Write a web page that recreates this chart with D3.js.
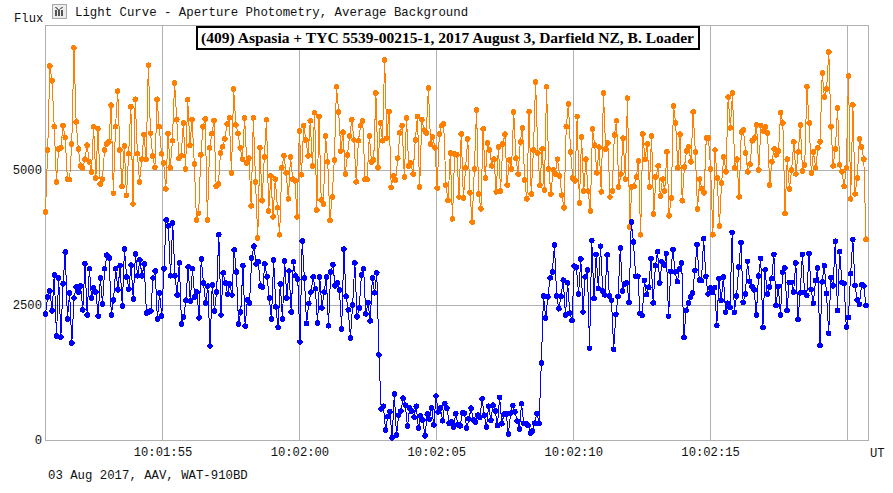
<!DOCTYPE html>
<html>
<head>
<meta charset="utf-8">
<script src="https://cdn.jsdelivr.net/npm/d3@7"></script>
<style>
  html, body { margin: 0; padding: 0; background: #fff; }
  svg { display: block; }
  .mono { font-family: "Liberation Mono", monospace; fill: #111; }
</style>
</head>
<body>
<script>
// flux, one value per video frame, left to right
const starFlux = [
  4220,5370,6925,6650,5800,4780,5390,5410,5820,5600,4830,4820,5480,7260,5890,5390,5075,5040,5200,5460,
  5150,4960,5800,4850,5760,4740,4830,5370,5480,5520,6200,4570,5800,6460,5370,4700,5445,4530,5300,6170,
  4370,6310,5300,4780,5200,5650,5200,6940,5680,5260,5050,6310,5800,5300,
  5130,4650,5680,5040,5540,6610,5930,5220,5260,5870,5020,6300,5460,5930,5110,4075,4200,5280,5800,5945,
  4075,5410,5670,5910,4700,4740,5315,5430,5575,5850,5965,4945,6500,5835,5680,5410,5200,5965,5130,5220,
  4335,5965,4780,3740,5410,4430,5240,5930,4240,4890,4130,4830,4300,3800,5040,5260,4945,4465,5240,4830,
  4800,4130,5720,
  4910,5820,5555,5260,5910,5075,6060,4260,5990,4445,4370,5630,5150,4060,4500,5185,6540,6075,5350,5700,
  4925,5280,5630,5930,5555,4780,5540,5820,5910,4830,4830,5630,5150,5185,6425,5040,5870,5540,7035,5590,
  6075,4680,4890,4815,5220,5685,5820,4870,5965,5075,5130,4925,5555,5990,4685,5930,5740,5685,6520,5480,
  5610,5410,4665,5665,5820,5850,4720,4430,5315,4095,5295,5280,4500,5665,4480,5040,5575,4575,4035,5020,
  6110,4555,4280,5760,4850,5500,5370,5075,5200,4595,5425,4610,5480,5665,4720,5185,5020,6075,5220,4925,
  5520,5780,4815,4465,6075,4555,5370,6630,5315,4720,5390,4630,6540,5020,4555,5000,4925,5200,4890,4535,
  4300,5800,6220,5335,4850,4800,5990,4390,5610,4610,5200,4610,4240,5760,5460,4945,5425,
  4595,6425,5390,5500,4500,4610,5650,5910,4685,4925,5590,4830,6330,3945,4685,4700,4870,5165,3800,5665,
  5200,5480,4685,5630,4185,4870,5075,4520,4830,4610,5335,4150,4480,6185,5870,5040,5665,4430,5055,5350,
  5425,5150,6075,5335,4280,4830,4650,4575,5590,5590,5020,3800,5370,4850,3965,4760,5240,4965,6350,5780,
  6425,5040,5200,4500,5700,5740,5315,4965,5110,5540,5590,5835,5000,5820,5720,5800,5685,4720,5150,5390,
  5280,5350,6060,5870,4200,5200,4650,5000,5520,4925,5335,5835,4980,5095,6540,5870,4945,5335,5040,5410,
  5520,6795,6350,6500,7185,5800,5075,5390,6150,5095,4965,4700,5040,6740,4465,6205,4555,4850,5575,5425,
  5200,3720
];
const asteroidFlux = [
  2335,2650,2760,2390,3055,1925,3000,1905,2890,3480,2240,2720,1795,2630,2835,2740,2850,2410,3260,2315,
  3170,2630,2815,2740,2295,3000,2520,3170,3425,3370,2315,2590,3170,2780,3225,2480,3535,3020,2795,3240,
  2610,3445,3040,3335,3040,3260,2350,2370,2390,3000,3130,2240,2720,2295,3170,4075,3965,3040,4020,3040,
  2685,3280,2150,2280,2590,3205,2575,3170,2650,2740,2260,3350,2905,2535,2850,1740,2870,2390,2740,3800,
  2315,3095,2905,2700,2890,2685,3520,3110,2150,2370,3225,2110,2590,2535,3370,3590,3260,3300,2850,2835,
  3260,3020,2630,2240,3335,2465,2090,2890,2240,3315,2630,3130,2370,3300,3040,2980,1815,
  3685,3000,2155,2530,2740,3020,2800,2165,3020,2445,2740,3020,2115,3110,3245,2855,2905,2775,2055,3535,
  2665,2410,1890,2500,3280,2280,2445,3055,3170,2335,2540,2205,3000,2725,3095,1575,
  575,625,185,430,520,40,850,90,460,535,775,645,260,590,535,425,625,220,445,370,75,480,385,590,280,815,
  520,590,355,670,590,310,335,240,485,280,260,500,495,220,390,590,370,330,460,420,760,460,240,625,365,
  645,535,270,790,300,480,480,110,495,640,520,350,205,670,310,300,270,130,165,310,495,310,
  1425,2665,2260,2650,3000,3110,3610,2665,2430,2665,2960,2315,2910,2350,2220,3220,3200,2705,3350,2370,
  3020,3150,1700,
  3692,2624,3433,2803,3587,2760,2686,3427,2667,2587,1680,2328,2655,3556,2760,2890,2908,2550,4038,3667,
  3032,3032,2346,2309,2957,2692,2828,3365,2538,3229,3488,2908,3297,3241,3451,2291,3124,3525,3112,2933,
  3167,3278,1896,2396,2538,2649,2723,3143,3618,2964,2951,3729,3032,2704,2815,2729,2822,2124,2988,2581,
  3019,2365,2532,2451,3846,2365,2667,3204,3661,2550,2704,3309,2939,2846,2778,2315,3038,3365,2087,3149,
  2704,2834,2988,3439,2495,2846,2315,3106,3186,2402,2920,2920,2741,3278,2235,2723,3439,2729,2673,3458,
  2791,2532,2951,3186,1754,2927,3229,2711,1976,3007,2853,3680,2396,3488,2920,2902,2093,2266,3081,3711,
  2865,2593,2513,2877,2853,2495
];
const fluxTicks = [0, 2500, 5000];
const timeTicks = [115, 120, 125, 130, 135, 140]; // seconds after 10:00:00
const timeLabels = ["10:01:55", "10:02:00", "10:02:05", "10:02:10", "10:02:15", ""];
const firstFrame = 110.727;
const lastFrame = 140.694;

const titleText = "(409) Aspasia + TYC 5539-00215-1, 2017 August 3, Darfield NZ, B. Loader";
const headerText = "Light Curve - Aperture Photometry, Average Background";
const footerText = "03 Aug 2017, AAV, WAT-910BD";

const width = 893, height = 493;
const margin = {top: 25, right: 25, bottom: 53, left: 45};
const gridColor = "#b0b0b0";

const svg = d3.select("body").append("svg")
  .attr("width", width)
  .attr("height", height);

const xScale = d3.scaleLinear()
  .domain([110.727, 140.767])
  .range([margin.left + 0.5, width - margin.right]);

const yScale = d3.scaleLinear()
  .domain([0, 7685])
  .range([height - margin.bottom, margin.top]);

// frame
svg.append("rect")
  .attr("x", margin.left)
  .attr("y", margin.top)
  .attr("width", width - margin.left - margin.right)
  .attr("height", height - margin.top - margin.bottom)
  .attr("fill", "none")
  .attr("stroke", gridColor)
  .attr("shape-rendering", "crispEdges");

// axes, the tick lines double as the grid
const xAxis = d3.axisBottom(xScale)
  .tickValues(timeTicks)
  .tickSize(-(height - margin.top - margin.bottom))
  .tickPadding(7)
  .tickFormat((d, i) => timeLabels[i]);

const yAxis = d3.axisLeft(yScale)
  .tickValues(fluxTicks)
  .tickSize(-(width - margin.left - margin.right))
  .tickPadding(3)
  .tickFormat(d3.format("d"));

const gx = svg.append("g")
  .attr("transform", `translate(0, ${height - margin.bottom})`)
  .call(xAxis);
const gy = svg.append("g")
  .attr("transform", `translate(${margin.left}, 0)`)
  .call(yAxis);

[gx, gy].forEach(g => {
  g.select(".domain").remove();
  g.selectAll(".tick line")
    .attr("stroke", gridColor)
    .attr("shape-rendering", "crispEdges");
  g.selectAll(".tick text")
    .attr("class", "mono")
    .style("font-size", "12.2px");
});

function drawSeries(values, color) {
  const step = (lastFrame - firstFrame) / (values.length - 1);
  const frameX = i => xScale(firstFrame + i * step);
  const line = d3.line()
    .x((d, i) => frameX(i))
    .y(d => yScale(d));
  const g = svg.append("g").attr("shape-rendering", "crispEdges");
  g.append("path")
    .attr("d", line(values))
    .attr("fill", "none")
    .attr("stroke", color)
    .attr("stroke-width", 1);
  g.selectAll("circle").data(values)
    .enter().append("circle")
      .attr("cx", (d, i) => frameX(i))
      .attr("cy", d => yScale(d))
      .attr("r", 2.8)
      .attr("fill", color);
}

drawSeries(starFlux, "#ff8000");
drawSeries(asteroidFlux, "#0000ff");

// title box sits over the plot
svg.append("rect")
  .attr("x", 197)
  .attr("y", 27)
  .attr("width", 502)
  .attr("height", 22)
  .attr("fill", "#fff")
  .attr("stroke", "#000")
  .attr("stroke-width", 2)
  .attr("shape-rendering", "crispEdges");
svg.append("text")
  .attr("x", 201)
  .attr("y", 43)
  .attr("textLength", 493)
  .style("font-family", '"Liberation Serif", serif')
  .style("font-weight", "bold")
  .style("font-size", "15.5px")
  .text(titleText);

const monoText = (x, y, s, size) => svg.append("text")
  .attr("class", "mono")
  .attr("x", x)
  .attr("y", y)
  .style("font-size", size + "px")
  .text(s);

monoText(14, 22, "Flux", 12.2);
monoText(75, 16, headerText, 12.36);
monoText(48, 479, footerText, 12.33);
monoText(870, 457, "UT", 12.2);

// little window icon next to the header
const icon = svg.append("g")
  .attr("transform", "translate(52, 4)")
  .attr("shape-rendering", "crispEdges");
icon.append("rect")
  .attr("width", 14)
  .attr("height", 14)
  .attr("fill", "#ececec")
  .attr("stroke", "#a8a8a8");
icon.selectAll("line.bar").data([4, 7, 10])
  .enter().append("line")
    .attr("class", "bar")
    .attr("x1", d => d)
    .attr("x2", d => d)
    .attr("y1", 6)
    .attr("y2", 12)
    .attr("stroke", "#555")
    .attr("stroke-width", 2);
icon.append("path")
  .attr("d", "M3 3 L7 6 L11 3")
  .attr("fill", "none")
  .attr("stroke", "#777");
</script>
</body>
</html>
